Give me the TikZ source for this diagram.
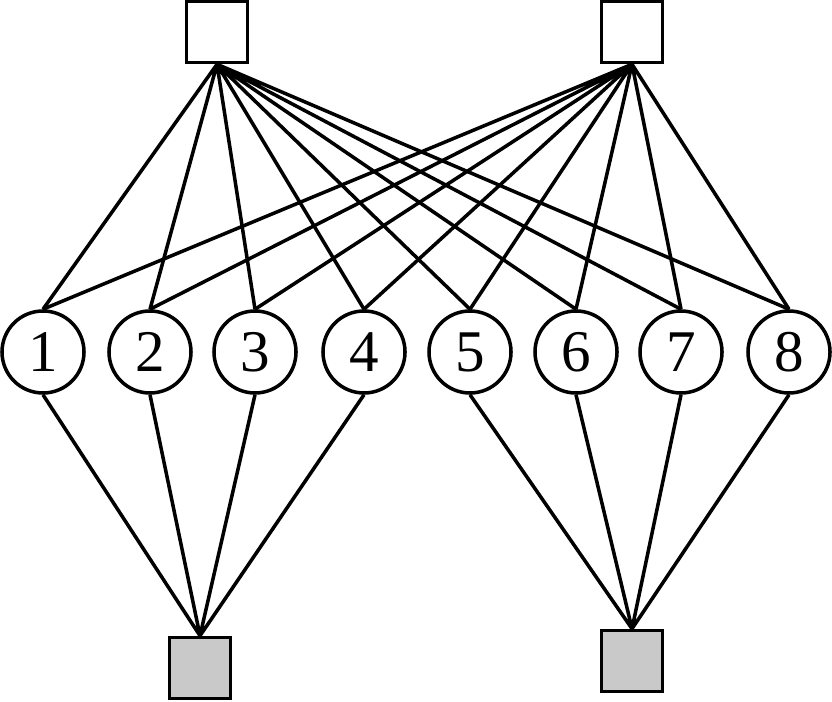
\documentclass[tikz,border=0pt]{standalone}
\usepackage{fontspec}
\setmainfont{Liberation Serif}
\usepackage{tikz}
\usetikzlibrary{positioning}

\begin{document}
\begin{tikzpicture}[x=0.025cm,y=-0.025cm,line width=2.5pt,
    sq/.style={draw,fill=white,minimum size=1.525cm,inner sep=0pt},
    gsq/.style={sq,fill=black!21},
    cir/.style={draw,circle,fill=white,minimum size=2.05cm,inner sep=0pt,font=\fontsize{42}{42}\selectfont}]
      \useasboundingbox (0,0) rectangle (832,701);
      \node[sq] (t1) at (217,32) {};%上左
      \node[sq] (t2) at (632,32) {};%上右
      \node[gsq] (b1) at (200,668) {};%下左
      \node[gsq] (b2) at (632,661) {};%下右
      \node[cir] (c1) at (43,352) {1};
      \node[cir] (c2) at (150,352) {2};
      \node[cir] (c3) at (255,352) {3};
      \node[cir] (c4) at (364,352) {4};
      \node[cir] (c5) at (470,352) {5};
      \node[cir] (c6) at (576,352) {6};
      \node[cir] (c7) at (681,352) {7};
      \node[cir] (c8) at (789,352) {8};
      \draw (t1.south)--(c1.north) (t1.south)--(c2.north) (t1.south)--(c3.north) (t1.south)--(c4.north)
            (t1.south)--(c5.north) (t1.south)--(c6.north) (t1.south)--(c7.north) (t1.south)--(c8.north);
      \draw (t2.south)--(c1.north) (t2.south)--(c2.north) (t2.south)--(c3.north) (t2.south)--(c4.north)
            (t2.south)--(c5.north) (t2.south)--(c6.north) (t2.south)--(c7.north) (t2.south)--(c8.north);
      \draw (c1.south)--(b1.north) (c2.south)--(b1.north) (c3.south)--(b1.north) (c4.south)--(b1.north);
      \draw (c5.south)--(b2.north) (c6.south)--(b2.north) (c7.south)--(b2.north) (c8.south)--(b2.north);
\end{tikzpicture}
\end{document}
